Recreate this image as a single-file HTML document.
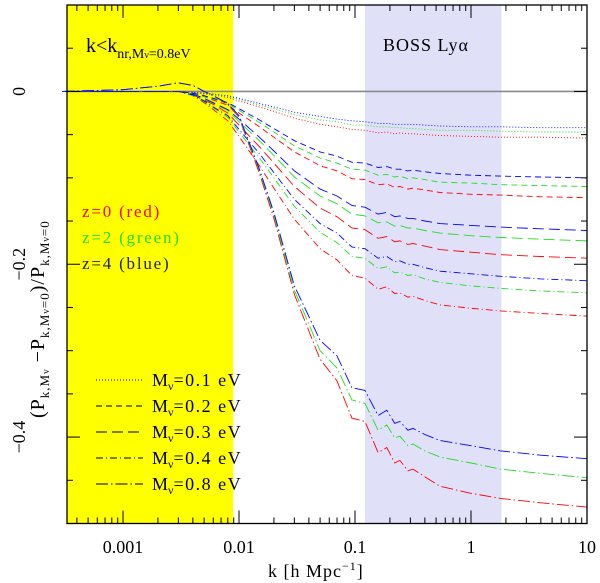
<!DOCTYPE html>
<html><head><meta charset="utf-8"><style>
body{margin:0;background:#fff}
svg{display:block;font-family:"Liberation Serif",serif}
</style></head><body>
<svg id="chart" width="600" height="583" viewBox="0 0 600 583" xmlns="http://www.w3.org/2000/svg">
<g id="bg"></g><g id="series"></g><g id="axes"></g><g id="labels"></g>
</svg>
<script>
const kNodes=[0.0003,0.001,0.002,0.003,0.004,0.005,0.006,0.008,0.01,0.015,0.02,0.03,0.05,0.07,0.094,0.122,0.158,0.188,0.22,0.244,0.286,0.316,0.4,0.54,1,1.8,4,10];
const m01_z4=[0,0,0,0,-0.001,-0.002,-0.003,-0.005,-0.008,-0.014,-0.018,-0.024,-0.029,-0.032,-0.034,-0.035,-0.037,-0.037,-0.038,-0.038,-0.038,-0.038,-0.039,-0.040,-0.041,-0.041,-0.042,-0.042];
const m01_z2=[0,0,0,0,-0.001,-0.002,-0.004,-0.006,-0.009,-0.016,-0.020,-0.027,-0.033,-0.035,-0.039,-0.039,-0.041,-0.041,-0.042,-0.042,-0.043,-0.043,-0.044,-0.045,-0.045,-0.046,-0.047,-0.047];
const m01_z0=[0,0,0,0,-0.001,-0.003,-0.004,-0.007,-0.011,-0.018,-0.023,-0.031,-0.038,-0.041,-0.044,-0.045,-0.048,-0.047,-0.049,-0.048,-0.049,-0.049,-0.050,-0.051,-0.052,-0.053,-0.053,-0.054];
const m02_z4=[0,0,0,0,-0.002,-0.005,-0.008,-0.013,-0.020,-0.033,-0.043,-0.057,-0.070,-0.075,-0.082,-0.083,-0.088,-0.087,-0.090,-0.090,-0.092,-0.091,-0.093,-0.095,-0.097,-0.098,-0.099,-0.100];
const m02_z2=[0,0,0,0,-0.002,-0.006,-0.009,-0.014,-0.022,-0.036,-0.047,-0.063,-0.077,-0.083,-0.090,-0.091,-0.097,-0.096,-0.099,-0.098,-0.101,-0.100,-0.102,-0.105,-0.106,-0.108,-0.109,-0.110];
const m02_z0=[0,0,0,0,-0.002,-0.006,-0.010,-0.016,-0.025,-0.041,-0.053,-0.070,-0.086,-0.092,-0.101,-0.102,-0.108,-0.107,-0.111,-0.110,-0.113,-0.112,-0.114,-0.117,-0.119,-0.120,-0.122,-0.123];
const m03_z4=[0,0,0,0,-0.003,-0.008,-0.013,-0.021,-0.032,-0.053,-0.069,-0.092,-0.113,-0.121,-0.132,-0.134,-0.142,-0.140,-0.145,-0.144,-0.147,-0.147,-0.150,-0.153,-0.155,-0.157,-0.159,-0.161];
const m03_z2=[0,0,0,0,-0.003,-0.009,-0.014,-0.022,-0.035,-0.057,-0.074,-0.099,-0.121,-0.130,-0.142,-0.144,-0.152,-0.151,-0.156,-0.155,-0.158,-0.158,-0.161,-0.164,-0.167,-0.169,-0.171,-0.173];
const m03_z0=[0,0,0,0,-0.004,-0.010,-0.015,-0.025,-0.039,-0.064,-0.083,-0.110,-0.135,-0.145,-0.158,-0.160,-0.170,-0.168,-0.174,-0.173,-0.177,-0.176,-0.179,-0.183,-0.186,-0.189,-0.191,-0.193];
const m04_z4=[0,0,0,0,-0.004,-0.011,-0.018,-0.028,-0.044,-0.072,-0.094,-0.125,-0.153,-0.164,-0.180,-0.182,-0.193,-0.191,-0.197,-0.196,-0.200,-0.200,-0.204,-0.208,-0.211,-0.214,-0.217,-0.219];
const m04_z2=[0,0,0,0,-0.005,-0.012,-0.019,-0.030,-0.047,-0.077,-0.100,-0.133,-0.163,-0.175,-0.191,-0.193,-0.205,-0.203,-0.210,-0.209,-0.213,-0.212,-0.217,-0.221,-0.225,-0.228,-0.231,-0.233];
const m04_z0=[0,0,0,0,-0.005,-0.013,-0.021,-0.034,-0.052,-0.086,-0.112,-0.148,-0.182,-0.195,-0.213,-0.216,-0.229,-0.226,-0.234,-0.233,-0.238,-0.237,-0.242,-0.247,-0.251,-0.254,-0.257,-0.260];
const m08_z4=[0,0.002,0.006,0.010,0.007,0,-0.005,-0.014,-0.028,-0.09,-0.14,-0.225,-0.288,-0.306,-0.343,-0.346,-0.375,-0.369,-0.384,-0.382,-0.392,-0.390,-0.397,-0.404,-0.410,-0.416,-0.421,-0.425];
const m08_z2=[0,0.002,0.006,0.010,0.007,0,-0.005,-0.014,-0.029,-0.092,-0.143,-0.23,-0.30,-0.32,-0.357,-0.361,-0.392,-0.386,-0.401,-0.399,-0.41,-0.408,-0.416,-0.423,-0.43,-0.437,-0.442,-0.447];
const m08_z0=[0,0.002,0.006,0.010,0.007,0,-0.005,-0.015,-0.030,-0.095,-0.147,-0.235,-0.31,-0.335,-0.378,-0.382,-0.418,-0.412,-0.43,-0.427,-0.439,-0.437,-0.446,-0.457,-0.465,-0.471,-0.476,-0.481];
const xTickVals=[0.001,0.01,0.1,1,10];
const xTickLabels=["0.001","0.01","0.1","1","10"];
const yTickVals=[0,-0.2,-0.4];
const yTickLabels=["0","\u22120.2","\u22120.4"];
const kNr=0.0089, bossMin=0.122, bossMax=1.83;

const NS="http://www.w3.org/2000/svg";
const L=67,R=587,T=5,B=523.5;
const LX0=-3.483,LX1=1,Y0=0.1,Y1=-0.5;
function xs(k){return L+(Math.log10(k)-LX0)/(LX1-LX0)*(R-L);}
function ys(v){return T+(Y0-v)/(Y0-Y1)*(B-T);}
function mk(tag,attrs,parent){const e=document.createElementNS(NS,tag);for(const a in attrs)e.setAttribute(a,attrs[a]);parent.appendChild(e);return e;}
const bg=document.getElementById('bg'),sg=document.getElementById('series'),ax=document.getElementById('axes'),lb=document.getElementById('labels');

let r=mk('rect',{x:L,y:T,width:xs(kNr)-L,height:B-T,fill:'#ffff00'},bg);


r=mk('rect',{x:xs(bossMin),y:T,width:xs(bossMax)-xs(bossMin),height:B-T,fill:'#e0e0f8'},bg);


let zl=mk('line',{x1:L,x2:R,y1:ys(0),y2:ys(0),stroke:'#8a8a8a','stroke-width':1.6},bg);



const colors={z0:'#ff0000',z2:'#22dd22',z4:'#0000ff'};
const dashes={m01:'1,2',m02:'6,4',m03:'11,5',m04:'7,3,1,3',m08:'12,3,1.5,3'};
const seriesList=[['m01','z0',m01_z0],['m01','z2',m01_z2],['m01','z4',m01_z4],['m02','z0',m02_z0],['m02','z2',m02_z2],['m02','z4',m02_z4],['m03','z0',m03_z0],['m03','z2',m03_z2],['m03','z4',m03_z4],['m04','z0',m04_z0],['m04','z2',m04_z2],['m04','z4',m04_z4],['m08','z0',m08_z0],['m08','z2',m08_z2],['m08','z4',m08_z4]];
seriesList.forEach(s=>{
  const pts=kNodes.map((k,i)=>xs(k).toFixed(1)+','+ys(s[2][i]).toFixed(1)).join(' ');
  const p=mk('polyline',{points:pts,fill:'none',stroke:colors[s[1]],'stroke-width':0.9,'stroke-dasharray':dashes[s[0]]},sg);
  
  
});

let fr=mk('rect',{x:L,y:T,width:R-L,height:B-T,fill:'none',stroke:'#000','stroke-width':1.3},ax);


for(let d=-4;d<=1;d++){for(let m=1;m<=9;m++){const k=m*Math.pow(10,d);const x=xs(k);if(x<L-0.5||x>R+0.5)continue;const len=m===1?13:6;
 mk('line',{x1:x,x2:x,y1:B,y2:B-len,stroke:'#000','stroke-width':1},ax);
 mk('line',{x1:x,x2:x,y1:T,y2:T+len,stroke:'#000','stroke-width':1},ax);}}
for(let i=-10;i<=2;i++){const v=i*0.05;const y=ys(v);if(y<T-0.5||y>B+0.5)continue;const len=(i%4===0)?13:6;
 mk('line',{x1:L,x2:L+len,y1:y,y2:y,stroke:'#000','stroke-width':1},ax);
 mk('line',{x1:R,x2:R-len,y1:y,y2:y,stroke:'#000','stroke-width':1},ax);}
xTickVals.forEach((v,i)=>{const t=mk('text',{x:xs(v),y:553,'font-size':18,'text-anchor':'middle'},lb);t.textContent=xTickLabels[i];
 
 });
yTickVals.forEach((v,i)=>{const t=mk('text',{x:0,y:0,'font-size':18,'text-anchor':'middle',transform:'translate(25,'+ys(v)+') rotate(-90)'},lb);t.textContent=yTickLabels[i];
 
 });
</script>
<svg style="position:absolute;left:0;top:0" width="600" height="583" font-family="Liberation Serif, serif">
<text x="268" y="577" font-size="18" letter-spacing="1">k [h Mpc<tspan font-size="12" dy="-7">−1</tspan><tspan dy="7">]</tspan></text>
<text transform="translate(44,418) rotate(-90)" font-size="20" letter-spacing="1">(P<tspan font-size="13" dy="5">k,M<tspan font-size="10">ν</tspan></tspan><tspan dy="-5"> −P</tspan><tspan font-size="13" dy="5">k,M<tspan font-size="10">ν</tspan>=0</tspan><tspan dy="-5">)/P</tspan><tspan font-size="13" dy="5">k,M<tspan font-size="10">ν</tspan>=0</tspan></text>
<text x="86" y="52" font-size="20">k&lt;k<tspan font-size="14" dy="6">nr,M<tspan font-size="10">ν</tspan>=0.8eV</tspan></text>
<text x="383" y="51" font-size="18" letter-spacing="1">BOSS Lyα</text>
<text x="82" y="217" font-size="17" fill="#ff0000" letter-spacing="1.8">z=0 (red)</text>
<text x="82" y="243" font-size="17" fill="#22dd22" letter-spacing="1.8">z=2 (green)</text>
<text x="82" y="269" font-size="17" fill="#202040" letter-spacing="1.8">z=4 (blue)</text>
<g stroke="#000" stroke-width="1" fill="none">
<line x1="96" x2="143" y1="380" y2="380" stroke-dasharray="1,2"/>
<line x1="96" x2="143" y1="406" y2="406" stroke-dasharray="6,4"/>
<line x1="96" x2="143" y1="432" y2="432" stroke-dasharray="11,5"/>
<line x1="96" x2="143" y1="458" y2="458" stroke-dasharray="7,3,1,3"/>
<line x1="96" x2="143" y1="484" y2="484" stroke-dasharray="12,3,1.5,3"/>
</g>
<g font-size="18">
<text x="152" y="386">M<tspan font-size="12" dy="4">ν</tspan><tspan dy="-4" letter-spacing="1.5">=0.1 eV</tspan></text>
<text x="152" y="412">M<tspan font-size="12" dy="4">ν</tspan><tspan dy="-4" letter-spacing="1.5">=0.2 eV</tspan></text>
<text x="152" y="438">M<tspan font-size="12" dy="4">ν</tspan><tspan dy="-4" letter-spacing="1.5">=0.3 eV</tspan></text>
<text x="152" y="464">M<tspan font-size="12" dy="4">ν</tspan><tspan dy="-4" letter-spacing="1.5">=0.4 eV</tspan></text>
<text x="152" y="490">M<tspan font-size="12" dy="4">ν</tspan><tspan dy="-4" letter-spacing="1.5">=0.8 eV</tspan></text>
</g>
</svg>
</body></html>
